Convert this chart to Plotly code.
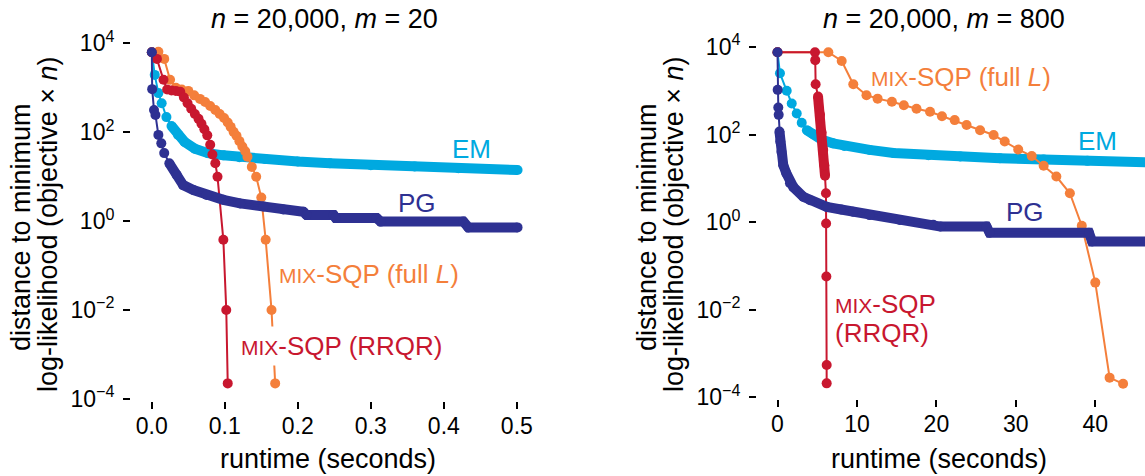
import plotly.graph_objects as go

# ---------------- data: left panel (n = 20,000, m = 20) ----------------
L_EM_T = [0, 0.004, 0.009, 0.0135, 0.020, 0.027, 0.036, 0.045, 0.059, 0.077, 0.098, 0.12, 0.155,
          0.20, 0.244, 0.30, 0.36, 0.42, 0.501]
L_EM_V = [6310, 1950, 759, 447, 219, 138, 87.1, 60.3, 42.7, 33.9, 30.2, 27.5, 25.1,
          21.9, 20.0, 18.2, 17.0, 15.5, 14.1]

L_PG_T = [0, 0.0005, 0.003, 0.005, 0.009, 0.013, 0.017, 0.024, 0.034, 0.043, 0.057, 0.075, 0.098,
          0.121, 0.153, 0.18, 0.2075, 0.212, 0.249, 0.252, 0.308, 0.3135, 0.4267, 0.4336, 0.501]
L_PG_V = [6310, 933, 316, 245, 87.1, 56.2, 33.9, 20.0, 11.0, 6.46, 5.01, 3.89, 3.02,
          2.51, 2.14, 1.82, 1.62, 1.38, 1.38, 1.17, 1.17, 0.977, 0.977, 0.724, 0.724]

L_RR_T = [0, 0.007, 0.016, 0.021, 0.027, 0.033, 0.039, 0.044, 0.049, 0.054, 0.059, 0.064, 0.068,
          0.072, 0.076, 0.080, 0.083, 0.087, 0.090, 0.098, 0.102, 0.104]
L_RR_V = [6310, 4470, 1510, 912, 871, 851, 813, 603, 447, 339, 257, 200, 155,
          117, 85.1, 52.5, 31.6, 20.0, 10.0, 0.380, 0.0100, 0.000224]

L_FL_T = [0, 0.009, 0.017, 0.025, 0.033, 0.041, 0.050, 0.058, 0.066, 0.073, 0.080, 0.087, 0.093,
          0.099, 0.104, 0.108, 0.112, 0.116, 0.120, 0.124, 0.128, 0.131, 0.137, 0.143, 0.150,
          0.156, 0.164, 0.169]
L_FL_V = [6310, 6460, 4470, 1510, 1000, 912, 851, 676, 562, 479, 389, 316, 257,
          209, 166, 132, 102, 83.2, 63.1, 47.9, 37.2, 28.2, 16.6, 10.0, 3.39,
          0.380, 0.0100, 0.000224]

# ---------------- data: right panel (n = 20,000, m = 800) ----------------
R_EM_T = [0, 0.31, 1.16, 1.79, 2.42, 3.05, 3.7, 4.5, 5.6, 7.0, 8.4, 11.6, 14.6, 19, 23, 28, 33.5, 39, 48]
R_EM_V = [7590, 2510, 1000, 513, 302, 186, 126, 102, 75.9, 63.1, 55.0, 44.7, 38.0, 33.9, 31.6, 28.8,
          26.9, 25.1, 22.9]

R_PG_T = [0, 0.02, 0.1, 0.15, 0.25, 0.35, 0.5, 0.73, 1.1, 1.57, 2.0, 3.25, 4.1, 6.2, 8.0, 9.5, 11.6,
          15.4, 19.6, 20.5, 26.3, 26.7, 39.2, 39.6, 48]
R_PG_V = [7590, 1050, 417, 282, 117, 69.2, 40.7, 20.0, 13.2, 7.76, 6.31, 3.80, 3.16, 2.24, 1.95, 1.74,
          1.45, 1.12, 0.871, 0.794, 0.794, 0.575, 0.575, 0.363, 0.363]

R_RR_T = [0, 4.72, 4.75, 4.80, 5.10, 5.35, 5.55, 5.75, 5.90, 5.98, 6.10, 6.12, 6.15, 6.19, 6.19]
R_RR_V = [7590, 7590, 5010, 1410, 741, 282, 112, 44.7, 20.0, 11.5, 4.57, 0.933, 0.0575, 0.000550,
          0.000209]

R_FL_T = [0, 6.4, 8.08, 9.54, 11.2, 12.6, 14.4, 15.9, 17.5, 19.2, 20.7, 22.3, 23.8, 25.5, 27.2, 28.6,
          30.3, 32.0, 33.5, 35.1, 36.8, 38.3, 40.0, 41.8, 43.5]
R_FL_V = [7590, 7590, 4790, 1410, 794, 661, 562, 468, 389, 331, 263, 214, 166, 126, 97.7, 69.2,
          45.7, 32.4, 19.5, 11.0, 4.57, 0.832, 0.0417, 0.000282, 0.000204]

# tick labels
Y_TICKVALS = [1e-4, 1e-2, 1, 1e2, 1e4]
Y_TICKTEXT = ["10<sup>\u22124</sup>", "10<sup>\u22122</sup>", "10<sup>0</sup>", "10<sup>2</sup>", "10<sup>4</sup>"]
L_X_TICKVALS = [0, 0.1, 0.2, 0.3, 0.4, 0.5]
L_X_TICKTEXT = ["0.0", "0.1", "0.2", "0.3", "0.4", "0.5"]
R_X_TICKVALS = [0, 10, 20, 30, 40]
R_X_TICKTEXT = ["0", "10", "20", "30", "40"]

# ---------------- styling ----------------
W, H = 1145, 476
FONT = "Liberation Sans, Arial, sans-serif"
C_EM = "#00A9E0"
C_PG = "#2E3192"
C_RR = "#C8172F"
C_FL = "#F47F3B"
MS = 10


def px(x):
    return x / W


def py(y):
    return 1 - y / H


fig = go.Figure()


def add_series(t, v, color, xa, ya, dense=None):
    if dense is not None:
        a, b = dense
        fig.add_trace(go.Scatter(x=t[a:b], y=v[a:b], mode="lines", xaxis=xa, yaxis=ya,
                                 line=dict(color=color, width=MS), hoverinfo="skip",
                                 showlegend=False))
    fig.add_trace(go.Scatter(x=t, y=v, mode="lines+markers", xaxis=xa, yaxis=ya,
                             line=dict(color=color, width=2),
                             marker=dict(color=color, size=MS, line=dict(width=0)),
                             showlegend=False))


# drawing order: EM, full L, RRQR, PG
add_series(L_EM_T, L_EM_V, C_EM, "x", "y", dense=(5, None))
add_series(L_FL_T, L_FL_V, C_FL, "x", "y")
add_series(L_RR_T, L_RR_V, C_RR, "x", "y")
add_series(L_PG_T, L_PG_V, C_PG, "x", "y", dense=(7, None))

add_series(R_EM_T, R_EM_V, C_EM, "x2", "y2", dense=(6, None))
add_series(R_FL_T, R_FL_V, C_FL, "x2", "y2")
add_series(R_RR_T, R_RR_V, C_RR, "x2", "y2", dense=(4, 10))
add_series(R_PG_T, R_PG_V, C_PG, "x2", "y2", dense=(4, None))

tickfont = dict(family=FONT, size=23, color="black")
common_ax = dict(showgrid=False, zeroline=False, showline=False, ticks="outside",
                 ticklen=7, tickwidth=2, tickcolor="black", tickfont=tickfont,
                 automargin=False, fixedrange=True)

fig.update_layout(
    width=W, height=H, autosize=False,
    margin=dict(l=0, r=0, t=0, b=0),
    paper_bgcolor="white", plot_bgcolor="white",
    showlegend=False,
    xaxis=dict(domain=[px(131), px(525)], range=[-0.0285, 0.5112], anchor="y",
               tickmode="array", tickvals=L_X_TICKVALS, ticktext=L_X_TICKTEXT,
               ticklabelstandoff=-3, **common_ax),
    yaxis=dict(domain=[py(401), py(38)], type="log", range=[-4.046, 4.12], anchor="x",
               tickmode="array", tickvals=Y_TICKVALS, ticktext=Y_TICKTEXT,
               ticklabelstandoff=4, **common_ax),
    xaxis2=dict(domain=[px(757), 1.0], range=[-2.58, 46.256], anchor="y2",
                tickmode="array", tickvals=R_X_TICKVALS, ticktext=R_X_TICKTEXT,
                ticklabelstandoff=-3, **common_ax),
    yaxis2=dict(domain=[py(399), py(38)], type="log", range=[-4.037, 4.205], anchor="x2",
                tickmode="array", tickvals=Y_TICKVALS, ticktext=Y_TICKTEXT,
                ticklabelstandoff=4, **common_ax),
)


def ann(text, x, y, size=26, color="black", xanchor="center", angle=0, bg=None, pad=1):
    fig.add_annotation(text=text, x=px(x), y=py(y), xref="paper", yref="paper",
                       xanchor=xanchor, yanchor="middle", showarrow=False, textangle=angle,
                       font=dict(family=FONT, size=size, color=color),
                       bgcolor=bg, borderpad=pad)


MIX = "<span style='font-size:21px'>MIX</span>"

# panel titles
ann("<i>n</i> = 20,000, <i>m</i> = 20", 324, 19, size=27)
ann("<i>n</i> = 20,000, <i>m</i> = 800", 944, 19, size=27)

# axis titles
ann("runtime (seconds)", 328, 459, size=27)
ann("runtime (seconds)", 939, 459, size=27)
for xc in (21, 647):
    ann("distance to minimum", xc, 227, size=27, angle=-90)
for xc in (48, 674):
    ann("log-likelihood (objective \u00d7 <i>n</i>)", xc, 225, size=27, angle=-90)

# series labels, left
ann("EM", 471, 149, color=C_EM)
ann("PG", 417, 203, color=C_PG)
ann(MIX + "-SQP (full <i>L</i>)", 277, 274, color=C_FL, xanchor="left")
ann(MIX + "-SQP (RRQR)", 236, 346, color=C_RR, xanchor="left", bg="white", pad=4)

# series labels, right
ann(MIX + "-SQP (full <i>L</i>)", 869, 77, color=C_FL, xanchor="left")
ann("EM", 1097, 141, color=C_EM)
ann("PG", 1025, 212, color=C_PG)
ann(MIX + "-SQP", 833, 304, color=C_RR, xanchor="left")
ann("(RRQR)", 833, 333, color=C_RR, xanchor="left")

fig.write_html("out.html", config={"displayModeBar": False},
               post_script="document.body.style.margin='0';")
